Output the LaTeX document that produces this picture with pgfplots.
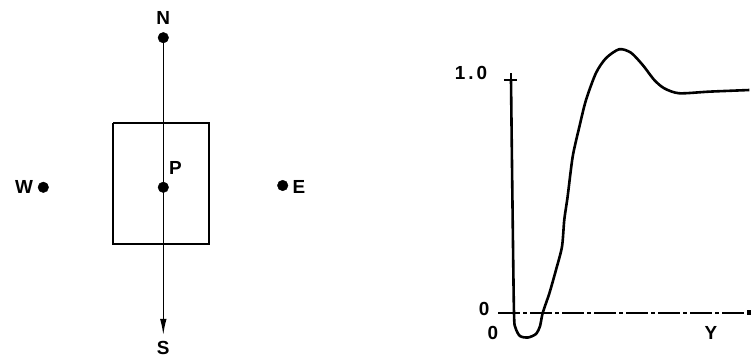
\documentclass[border=0pt]{standalone}
\usepackage{pgfplots}
\pgfplotsset{compat=1.18}
\usepackage{fontspec}
\setmainfont{Liberation Sans}
\usetikzlibrary{arrows.meta}

\begin{document}
\begin{tikzpicture}[font=\fontsize{19}{21}\selectfont\bfseries]
\useasboundingbox (0bp,0bp) rectangle (752bp,359bp);

% left: control volume around P, coordinates in pixels
\begin{axis}[at={(0bp,0bp)}, anchor=south west, scale only axis,
    width=376bp, height=359bp,
    xmin=0, xmax=376, ymin=0, ymax=359,
    hide axis, clip=false]
\addplot[black, line width=1.3bp, -{Latex[length=16bp,width=6.5bp]}]
    coordinates {(163.3,321) (163.3,24)};
\addplot[black, line width=2.2bp, line join=miter]
    coordinates {(113.3,236.3) (209,236.3) (209,114.7) (113.3,114.7) (113.3,236.3)};
\addplot[black, only marks, mark=*, mark size=5.3bp]
    coordinates {(163.3,321.3) (163.3,171.7) (43.3,171.7) (282.7,173.5)};
\node at (axis cs:163.3,341) {N};
\node at (axis cs:163.3,11) {S};
\node at (axis cs:175.5,191) {P};
\node at (axis cs:24,172) {W};
\node at (axis cs:299,172.5) {E};
\end{axis}

% right: profile along Y
\begin{axis}[at={(511bp,46bp)}, anchor=south west, scale only axis,
    width=240bp, height=233bp,
    xmin=0, xmax=1, ymin=0, ymax=1,
    hide axis, clip=false]
\draw[line width=1.2bp, dash pattern=on 22bp off 3bp on 4bp off 3bp,
    -{Square[length=4bp,width=5bp]}] (axis cs:-0.054,0) -- (axis cs:1,0);
\draw[line width=1.3bp] (axis cs:-0.03,1) -- (axis cs:0.025,1);
\draw[line width=1.3bp] (axis cs:0,1) -- (axis cs:0,1.03);
\addplot[black, line width=2.6bp, smooth, tension=0.45] coordinates {
    (0,1.0) (0.006,0.485) (0.0125,0) (0.019,-0.064) (0.0375,-0.099)
    (0.071,-0.105) (0.104,-0.09) (0.121,-0.056) (0.132,0)
    (0.16,0.085) (0.1875,0.185) (0.2125,0.285) (0.222,0.4)
    (0.236,0.5) (0.257,0.671) (0.285,0.8) (0.3125,0.914)
    (0.354,1.03) (0.396,1.094) (0.451,1.132) (0.5,1.117)
    (0.549,1.064) (0.597,1.0) (0.639,0.964) (0.701,0.943)
    (0.826,0.95) (0.993,0.957)
};
\node at (axis cs:-0.167,1.03) {1\kern3bp.\kern3bp0};
\node at (axis cs:-0.112,0.018) {0};
\node at (axis cs:-0.075,-0.086) {0};
\node at (axis cs:0.833,-0.086) {Y};
\end{axis}
\end{tikzpicture}
\end{document}
